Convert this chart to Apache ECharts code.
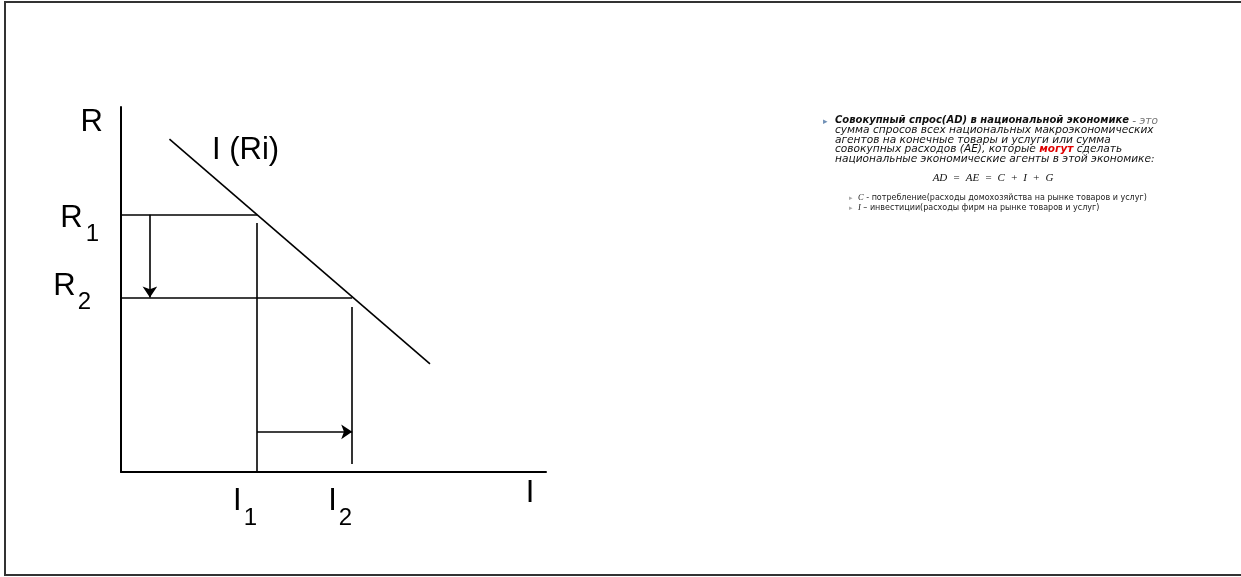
<!DOCTYPE html>
<html>
<head>
<meta charset="utf-8">
<script src="https://cdn.jsdelivr.net/npm/echarts@6/dist/echarts.min.js"></script>
<style>
  html, body { margin: 0; padding: 0; background: #fff; }
  #main { width: 1241px; height: 577px; }
</style>
</head>
<body>
<div id="main"></div>
<script>
    // кривая инвестиций I(R), точки в единицах осей 0..100
    var investCurve = [[11.4, 91.2], [72.7, 29.6]];
    var rateLevels = [70.5, 47.8];      // R1, R2
    var investLevels = [32, 54.4];      // I1, I2
    var rateNames = ['1', '2'];
    var investNames = ['1', '2'];
    var i1Top = 68.2;                   // верх вертикали I1
    var i2Span = [45.2, 2.2];           // вертикаль I2
    var downArrowX = 6.8;
    var rightArrowY = 11;

    var black = '#000';

    var segments = [
        {coords: [[0, rateLevels[0]], [investLevels[0], rateLevels[0]]]},
        {coords: [[0, rateLevels[1]], [investLevels[1], rateLevels[1]]]},
        {coords: [[investLevels[0], i1Top], [investLevels[0], 0]]},
        {coords: [[investLevels[1], i2Span[0]], [investLevels[1], i2Span[1]]]},
        {coords: investCurve}
    ];
    var arrows = [
        {coords: [[downArrowX, rateLevels[0]], [downArrowX, rateLevels[1]]]},
        {coords: [[investLevels[0], rightArrowY], [investLevels[1], rightArrowY]]}
    ];

    var ff = 'Liberation Sans';
    var xRich = {
        m: {fontSize: 31, fontFamily: ff, color: black, lineHeight: 34, verticalAlign: 'top'},
        s: {fontSize: 24, fontFamily: ff, color: black, lineHeight: 24, padding: [20, 0, 0, 2], verticalAlign: 'top'}
    };
    // R1 чуть ниже, R2 выше и левее — как на слайде
    var yRich = {
        m1: {fontSize: 31, fontFamily: ff, color: black, lineHeight: 34, padding: [5, 0, 0, 0], verticalAlign: 'top'},
        s1: {fontSize: 24, fontFamily: ff, color: black, lineHeight: 24, padding: [25, 0, 0, 3], verticalAlign: 'top'},
        m2: {fontSize: 31, fontFamily: ff, color: black, lineHeight: 54, verticalAlign: 'top'},
        s2: {fontSize: 24, fontFamily: ff, color: black, lineHeight: 24, padding: [20, 8, 0, 2], verticalAlign: 'top'}
    };

    var textX = 835;
    var bodyFont = 'italic 10.6px "DejaVu Sans"';
    var smallFont = '8px "DejaVu Sans"';

    var option = {
        animation: false,
        backgroundColor: '#fff',
        grid: {left: 121, top: 107, width: 425, height: 365},
        xAxis: {
            type: 'value', min: 0, max: 100,
            axisLine: {show: true, lineStyle: {color: black, width: 2}},
            axisTick: {show: false},
            splitLine: {show: false},
            axisLabel: {
                customValues: investLevels,
                align: 'right',
                margin: 14,
                formatter: function (v) {
                    return '{m|I}{s|' + investNames[investLevels.indexOf(v)] + '}';
                },
                rich: xRich
            },
            name: 'I',
            nameLocation: 'end',
            nameGap: -16,
            nameTextStyle: {fontSize: 31, fontFamily: ff, color: black,
                align: 'center', verticalAlign: 'top', padding: [6, 0, 0, 0]}
        },
        yAxis: {
            type: 'value', min: 0, max: 100,
            axisLine: {show: true, lineStyle: {color: black, width: 2}},
            axisTick: {show: false},
            splitLine: {show: false},
            axisLabel: {
                customValues: rateLevels,
                margin: 22,
                formatter: function (v) {
                    var k = rateLevels.indexOf(v) + 1;
                    return '{m' + k + '|R}{s' + k + '|' + rateNames[k - 1] + '}';
                },
                rich: yRich
            },
            name: 'R',
            nameLocation: 'end',
            nameGap: 0,
            nameTextStyle: {fontSize: 31, fontFamily: ff, color: black,
                align: 'right', verticalAlign: 'top', padding: [0, 18, 0, 0]}
        },
        series: [
            {
                type: 'lines',
                coordinateSystem: 'cartesian2d',
                symbol: ['none', 'none'],
                lineStyle: {color: black, width: 1.6, opacity: 1},
                data: segments,
                silent: true
            },
            {
                type: 'lines',
                coordinateSystem: 'cartesian2d',
                symbol: ['none', 'arrow'],
                symbolSize: 11,
                lineStyle: {color: black, width: 1.6, opacity: 1},
                data: arrows,
                silent: true
            }
        ],
        graphic: [
            // рамка слайда (правый край обрезан)
            {type: 'polyline', shape: {points: [[1241, 2], [5, 2], [5, 575], [1241, 575]]},
                style: {fill: 'none', stroke: '#333', lineWidth: 2}},
            // подпись кривой
            {type: 'text', x: 212, y: 135,
                style: {text: 'I (Ri)', font: '31px "Liberation Sans"', fill: black}},
            // текст справа
            {type: 'text', x: 823, y: 117,
                style: {text: '\u25B8', font: '9px "DejaVu Sans"', fill: '#6f8fb5'}},
            {type: 'text', x: textX, y: 116,
                style: {
                    text: '{b|Совокупный спрос(AD) в национальной экономике}{g| - это}\n' +
                        'сумма спросов всех национальных макроэкономических\n' +
                        'агентов на конечные товары и услуги или сумма\n' +
                        'совокупных расходов (AE), которые {r|могут} сделать\n' +
                        'национальные экономические агенты в этой экономике:',
                    font: bodyFont, fill: '#111', lineHeight: 9.5,
                    rich: {
                        b: {font: 'italic bold 10px "DejaVu Sans"', fill: '#111', lineHeight: 9.5},
                        g: {font: bodyFont, fill: '#777', lineHeight: 9.5},
                        r: {font: 'italic bold 10.5px "DejaVu Sans"', fill: '#e00000', lineHeight: 9.5}
                    }
                }},
            {type: 'text', x: 993, y: 173,
                style: {text: 'AD  =  AE  =  C  +  I  +  G', font: 'italic 11px "Liberation Serif"',
                    fill: '#111', align: 'center'}},
            {type: 'text', x: 849, y: 193,
                style: {text: '\u25B8\n\u25B8', font: '7px "DejaVu Sans"', fill: '#aaa', lineHeight: 9.8}},
            {type: 'text', x: 858, y: 193,
                style: {
                    text: '{i|C} - потребление(расходы домохозяйства на рынке товаров и услуг)\n' +
                        '{i|I} – инвестиции(расходы фирм на рынке товаров и услуг)',
                    font: smallFont, fill: '#222', lineHeight: 9.8,
                    rich: {i: {font: 'italic 8.5px "Liberation Serif"', fill: '#222', lineHeight: 9.8}}
                }}
        ]
    };

    var chart = echarts.init(document.getElementById('main'));
    chart.setOption(option);
</script>
</body>
</html>
